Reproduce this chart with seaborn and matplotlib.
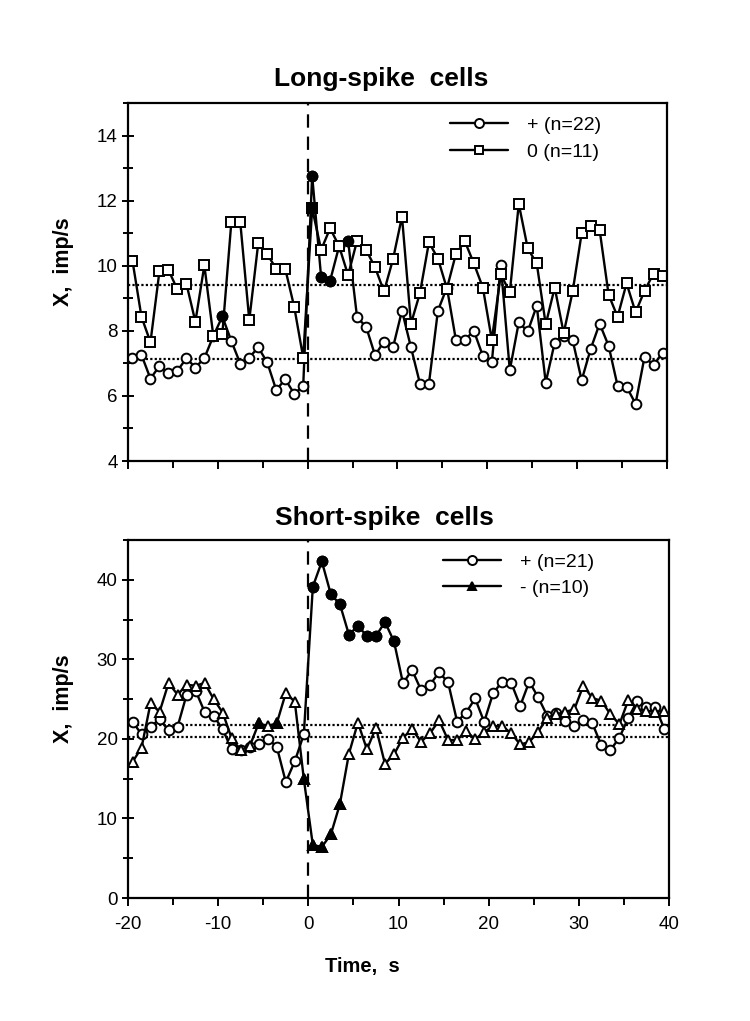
import numpy as np
import pandas as pd
import matplotlib
matplotlib.use("Agg")
import matplotlib.pyplot as plt
from matplotlib.lines import Line2D
from matplotlib.ticker import MultipleLocator
import seaborn as sns

# ---------------- data ----------------
time_s = np.arange(-19.5, 40.0, 1.0)  # bin centres, 1-s bins

long_plus = [7.15, 7.26, 6.53, 6.92, 6.69, 6.77, 7.16, 6.87, 7.16, 7.84,
             8.44, 7.69, 6.99, 7.18, 7.49, 7.03, 6.18, 6.51, 6.07, 6.29,
             12.77, 9.64, 9.54, 10.6, 10.77, 8.41, 8.13, 7.25, 7.67, 7.49,
             8.62, 7.49, 6.38, 6.38, 8.62, 9.33, 7.72, 7.72, 8.0, 7.23,
             7.03, 10.02, 6.79, 8.26, 7.98, 8.77, 6.41, 7.64, 7.85, 7.71,
             6.48, 7.44, 8.22, 7.54, 6.31, 6.28, 5.76, 7.2, 6.94, 7.33]
long_zero = [10.15, 8.43, 7.65, 9.83, 9.87, 9.27, 9.45, 8.28, 10.01, 7.84,
             7.9, 11.33, 11.33, 8.33, 10.7, 10.35, 9.91, 9.91, 8.74, 7.18,
             11.76, 10.49, 11.15, 10.6, 9.71, 10.77, 10.49, 9.95, 9.21, 10.2,
             11.51, 8.22, 9.16, 10.72, 10.22, 9.3, 10.36, 10.75, 10.07, 9.33,
             7.72, 9.74, 9.18, 11.9, 10.53, 10.07, 8.2, 9.33, 7.93, 9.21,
             11.0, 11.23, 11.1, 9.11, 8.43, 9.46, 8.57, 9.23, 9.76, 9.69]
long_plus_sig = [-9.5, 0.5, 1.5, 2.5, 4.5]
long_zero_sig = [0.5]
long_baselines = [9.4, 7.13]

short_plus = [22.18, 20.57, 21.54, 22.47, 21.08, 21.54, 25.55, 26.05, 23.39, 22.89,
              21.2, 18.67, 18.59, 19.01, 19.39, 20.02, 19.01, 14.58, 17.19, 20.57,
              39.14, 42.3, 38.16, 36.94, 33.1, 34.2, 32.93, 32.93, 34.7, 32.25,
              26.98, 28.67, 26.14, 26.81, 28.38, 27.11, 22.18, 23.31, 25.08, 22.13,
              25.76, 27.19, 27.03, 24.15, 27.19, 25.21, 22.89, 23.23, 22.26, 21.62,
              22.38, 21.96, 19.18, 18.59, 20.15, 22.68, 24.79, 23.95, 23.95, 21.2]
short_minus = [17.11, 18.88, 24.49, 23.39, 27.03, 25.55, 26.81, 26.68, 27.03, 25.0,
               23.31, 20.06, 18.59, 19.09, 21.96, 21.62, 21.96, 25.76, 24.66, 14.96,
               6.65, 6.43, 8.0, 11.8, 18.13, 22.05, 18.67, 21.42, 16.86, 18.04,
               20.15, 21.2, 19.64, 20.7, 22.34, 19.85, 19.85, 20.99, 19.94, 20.88,
               21.58, 21.62, 20.7, 19.3, 19.6, 20.91, 22.68, 23.1, 23.39, 23.73,
               26.68, 25.13, 24.79, 23.1, 21.84, 24.91, 23.73, 23.52, 23.39, 23.52]
short_plus_sig = [0.5, 1.5, 2.5, 3.5, 4.5, 5.5, 6.5, 7.5, 8.5, 9.5]
short_minus_sig = [-5.5, -3.5, -0.5, 0.5, 1.5, 2.5, 3.5]
short_baselines = [21.7, 20.3]

x_ticks = [-20, -10, 0, 10, 20, 30, 40]
long_yticks = [4, 6, 8, 10, 12, 14]
short_yticks = [0, 10, 20, 30, 40]

# ---------------- style ----------------
sns.set_style("ticks")
plt.rcParams["font.family"] = ["Liberation Sans", "DejaVu Sans"]
plt.rcParams["axes.unicode_minus"] = False
plt.rcParams["text.color"] = "black"

W, H = 750, 1021
fig = plt.figure(figsize=(W / 100, H / 100), dpi=100)
ax1 = fig.add_axes([128 / W, 1 - 461 / H, 539 / W, 358 / H])
ax2 = fig.add_axes([128 / W, 1 - 898 / H, 541 / W, 358 / H])

LW = 1.7
MS = 7.0
MEW = 1.4


def draw_series(ax, t, vals, sig, marker, label, ms=MS, legend_fill="white"):
    df = pd.DataFrame({"t": t, "v": vals})
    sns.lineplot(data=df, x="t", y="v", ax=ax, color="black", linewidth=LW,
                 marker=marker, markersize=ms, markerfacecolor="white",
                 markeredgecolor="black", markeredgewidth=MEW,
                 errorbar=None, sort=False, legend=False)
    sdf = df[df["t"].isin(sig)]
    ax.plot(sdf["t"], sdf["v"], linestyle="none", marker=marker, markersize=ms,
            markerfacecolor="black", markeredgecolor="black", markeredgewidth=MEW,
            zorder=5)
    return Line2D([0], [0], color="black", linewidth=LW, marker=marker,
                  markersize=ms - 0.5, markerfacecolor=legend_fill,
                  markeredgecolor="black", markeredgewidth=MEW, label=label)


# baselines and zero line
for b in long_baselines:
    ax1.axhline(b, color="black", linestyle=(0, (1, 1)), linewidth=1.6, zorder=1)
for b in short_baselines:
    ax2.axhline(b, color="black", linestyle=(0, (1, 1)), linewidth=1.6, zorder=1)
for ax in (ax1, ax2):
    ax.axvline(0, color="black", linestyle=(0, (6, 4)), linewidth=1.6, zorder=1)

h1 = draw_series(ax1, time_s, long_plus, long_plus_sig, "o", "+ (n=22)")
h2 = draw_series(ax1, time_s, long_zero, long_zero_sig, "s", "0 (n=11)", ms=6.8)
h3 = draw_series(ax2, time_s, short_plus, short_plus_sig, "o", "+ (n=21)")
h4 = draw_series(ax2, time_s, short_minus, short_minus_sig, "^", "- (n=10)", ms=6.5,
                 legend_fill="black")

ax1.legend(handles=[h1, h2], loc="upper left", bbox_to_anchor=(0.597, 0.962),
           frameon=False, fontsize=14, handlelength=3.0, handletextpad=0.95,
           labelspacing=0.45, borderaxespad=0, borderpad=0, labelcolor="black")
ax2.legend(handles=[h3, h4], loc="upper left", bbox_to_anchor=(0.582, 0.962),
           frameon=False, fontsize=14, handlelength=3.0, handletextpad=0.95,
           labelspacing=0.4, borderaxespad=0, borderpad=0, labelcolor="black")

# axes formatting
ax1.set_ylim(4, 15)
ax1.set_yticks(long_yticks)
ax1.yaxis.set_minor_locator(MultipleLocator(1))
ax2.set_ylim(0, 45)
ax2.set_yticks(short_yticks)
ax2.yaxis.set_minor_locator(MultipleLocator(5))

for ax in (ax1, ax2):
    ax.set_xlim(-20, 40)
    ax.set_xticks(x_ticks)
    ax.xaxis.set_minor_locator(MultipleLocator(5))
    ax.set_xlabel("")
    ax.set_ylabel("")
    for sp in ax.spines.values():
        sp.set_visible(True)
        sp.set_linewidth(1.6)
        sp.set_color("black")
    ax.tick_params(axis="y", which="major", direction="inout", length=9, width=1.4,
                   labelsize=13.5, pad=3, colors="black")
    ax.tick_params(axis="y", which="minor", direction="inout", length=7, width=1.4,
                   colors="black")
    ax.tick_params(axis="x", which="major", direction="out", length=6, width=1.4,
                   labelsize=13.5, pad=7, colors="black")
    ax.tick_params(axis="x", which="minor", direction="out", length=5, width=1.4,
                   colors="black")
    ax.set_facecolor("white")

ax1.tick_params(axis="x", labelbottom=False)

# titles and labels
fig.text(381 / W, 1 - 79 / H, "Long-spike  cells", ha="center", va="center",
         fontsize=19, fontweight="bold", color="black")
fig.text(384 / W, 1 - 518 / H, "Short-spike  cells", ha="center", va="center",
         fontsize=19, fontweight="bold", color="black")
fig.text(63 / W, 1 - 262 / H, "X,  imp/s", ha="center", va="center", rotation=90,
         fontsize=15.5, fontweight="bold", color="black")
fig.text(63 / W, 1 - 699 / H, "X,  imp/s", ha="center", va="center", rotation=90,
         fontsize=15.5, fontweight="bold", color="black")
fig.text(362 / W, 1 - 966 / H, "Time,  s", ha="center", va="center",
         fontsize=14.5, fontweight="bold", color="black")

fig.savefig("out.png", dpi=100, facecolor="white")
